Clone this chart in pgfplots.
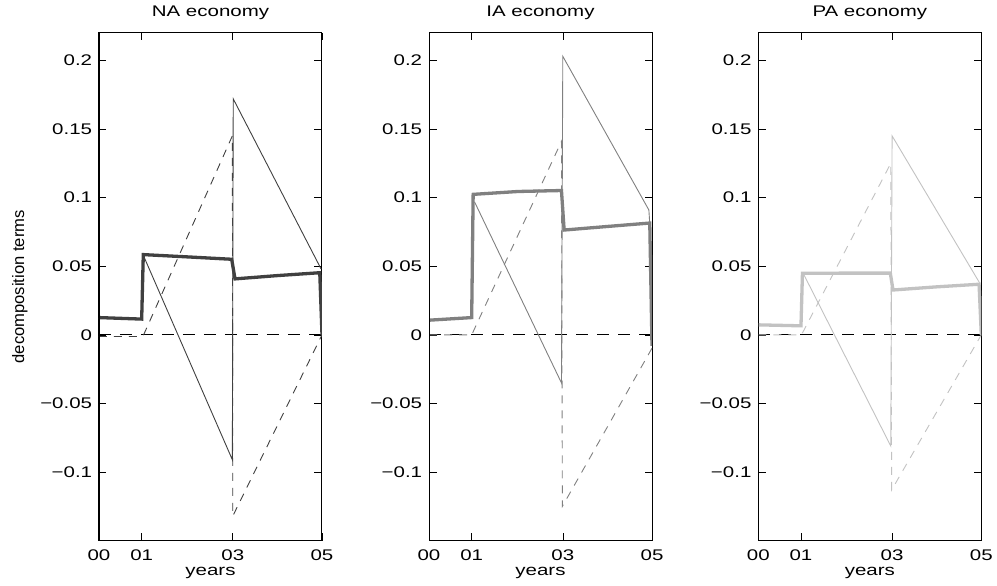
\documentclass[border=0pt]{standalone}
\usepackage{fontspec}
\setmainfont{Liberation Sans}[FakeStretch=1.33]
\newfontfamily\ylabfont{Liberation Sans}
\usepackage{pgfplots}
\pgfplotsset{compat=1.18}
\definecolor{cNA}{gray}{0.25}
\definecolor{cIA}{gray}{0.50}
\definecolor{cPA}{gray}{0.76}
\newcommand\lblfont{\fontsize{15.4}{18}\selectfont}
\pgfplotsset{panel/.style={
  scale only axis, width=223pt, height=507.7pt,
  xmin=0, xmax=5, ymin=-0.15, ymax=0.22,
  xtick={0,0.957,3,5}, xticklabels={00,01,03,05},
  ytick={-0.1,-0.05,0,0.05,0.1,0.15,0.2},
  yticklabels={−0.1,−0.05,0,0.05,0.1,0.15,0.2},
  tick align=inside, major tick length=7.5pt,
  tick style={black, line width=0.6pt},
  axis line style={line width=1pt},
  every tick label/.append style={font=\lblfont, inner sep=0pt},
  yticklabel style={anchor=east, xshift=-6.7pt},
  xticklabel style={anchor=base, yshift=-20.3pt},
  title style={font=\lblfont, at={(axis description cs:0.5,1)}, anchor=base, yshift=10.3pt, inner sep=0pt},
  xlabel={years},
  xlabel style={font=\lblfont, at={(axis description cs:0.5,0)}, anchor=base, yshift=-35pt, inner sep=0pt},
  zero/.style={black, line width=0.8pt, dash pattern=on 12pt off 9pt},
  dsh/.style={line width=0.9pt, dash pattern=on 8pt off 7pt},
  thn/.style={line width=0.9pt},
  thk/.style={line width=3.3pt, line join=miter},
}}
\begin{document}
\begin{tikzpicture}
% NA economy
\begin{axis}[panel, at={(0pt,0pt)}, title={NA economy},
  ylabel={decomposition terms},
  ylabel style={font={\ylabfont\fontsize{16.6}{20}\selectfont}, at={(axis description cs:-0.336,0.5)}, anchor=base, inner sep=0pt}]
\addplot[zero] coordinates {(0,0) (5,0)};
\addplot[dsh, cNA] coordinates {(0,-0.0012) (0.96,-0.0012) (1.0,0.0) (2.99,0.145) (3.0,-0.132) (5.0,0.0)};
\addplot[thn, cNA] coordinates {(1.02,0.056) (2.99,-0.091) (3.01,0.172) (4.98,0.048)};
\addplot[thk, cNA] coordinates {(0,0.0126) (0.957,0.0115) (0.993,0.0585) (2,0.0568) (2.975,0.0551) (3.05,0.0408) (4,0.0432) (4.95,0.0453) (5.0,0.0)};
\draw[line width=1.8pt] (rel axis cs:0,1) -- (rel axis cs:0,0) -- (rel axis cs:1,0);
\end{axis}
% IA economy
\begin{axis}[panel, at={(330pt,0pt)}, title={IA economy}]
\addplot[zero] coordinates {(0,0) (5,0)};
\addplot[dsh, cIA] coordinates {(0,0) (0.96,0) (1.0,0.003) (2.97,0.141) (2.99,-0.125) (5.0,-0.0097)};
\addplot[thn, cIA] coordinates {(1.02,0.097) (2.97,-0.035) (3.0,0.203) (4.93,0.091) (4.95,0.081)};
\addplot[thk, cIA] coordinates {(0,0.0107) (0.957,0.0126) (0.99,0.1024) (2,0.1045) (2.97,0.1052) (3.03,0.0764) (4,0.079) (4.95,0.0815) (5.0,-0.008)};
\draw[line width=1.8pt] (rel axis cs:0,1) -- (rel axis cs:0,0) -- (rel axis cs:1,0);
\end{axis}
% PA economy
\begin{axis}[panel, at={(659.3pt,0pt)}, title={PA economy}]
\addplot[zero] coordinates {(0,0) (5,0)};
\addplot[dsh, cPA] coordinates {(0,0) (0.96,0) (1.0,0.002) (2.97,0.125) (2.99,-0.113) (5.0,0.0)};
\addplot[thn, cPA] coordinates {(1.02,0.044) (2.97,-0.081) (3.0,0.145) (4.96,0.038)};
\addplot[thk, cPA] coordinates {(0,0.0073) (0.957,0.0066) (0.99,0.0449) (2,0.045) (2.96,0.045) (3.02,0.0327) (4,0.035) (4.95,0.0369) (5.0,0.0)};
\draw[line width=1.8pt] (rel axis cs:0,1) -- (rel axis cs:0,0) -- (rel axis cs:1,0);
\end{axis}
\pgfresetboundingbox
\path (-99pt,-45.3pt) rectangle (898pt,540.7pt);
\end{tikzpicture}
\end{document}
